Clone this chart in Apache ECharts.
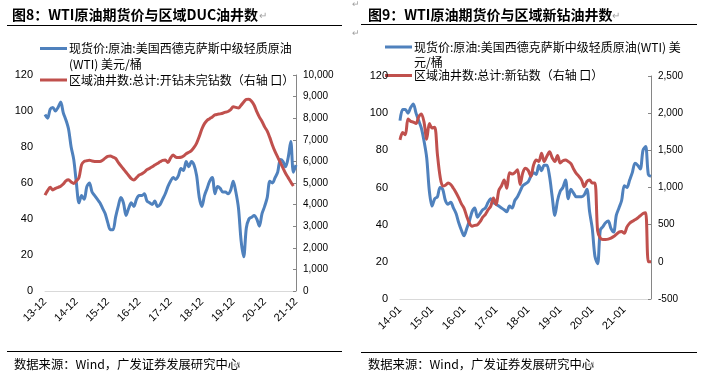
<!DOCTYPE html>
<html><head><meta charset="utf-8">
<script src="https://cdn.jsdelivr.net/npm/echarts@6/dist/echarts.min.js"></script>
<style>html,body{margin:0;padding:0;background:#fff;}#c{width:702px;height:381px;}</style>
</head><body><div id="c"></div>
<script>
function months(y, m, n) {
  const out = [];
  for (let i = 0; i < n; i++) {
    const yy = y + Math.floor((m - 1 + i) / 12);
    const mm = (m - 1 + i) % 12 + 1;
    out.push(String(yy % 100).padStart(2, '0') + '-' + String(mm).padStart(2, '0'));
  }
  return out;
}
// Chart 8: Dec-2013 .. Dec-2021 monthly
const leftCategories = months(2013, 12, 97);
// Chart 9: Jan-2014 .. Nov-2021 monthly
const rightCategories = months(2014, 1, 95);

const leftWTI = [98,96,101,102,100,102,105,99,95,90,80,73,60,49,53,51,58,60,55,53,51,49,46,43,38,34,34,41,47,52,49,42,46,49,47,51,53,53,54,50,49,48,50,47,48,51,54,58,61,63,62,64,68,67,72,69,72,70,64,52,47,53,57,61,63,54,58,57,55,55,54,56,61,55,46,28,19,35,40,41,42,40,36,43,47,52,61,60,63,66,73,72,69,74,83,66,70];
const leftDUC = [4440,4650,4800,4680,4750,4800,4850,4950,5100,5150,5050,4980,5100,5250,5850,6000,6030,6050,6020,6000,5990,5990,6050,6150,6230,6250,6200,6140,5950,5800,5650,5500,5350,5200,5140,5250,5370,5420,5500,5620,5680,5750,5830,5900,5980,6050,6060,5950,6150,6300,6200,6180,6190,6250,6350,6420,6500,6650,6850,7150,7500,7750,7900,7980,8060,8150,8180,8200,8230,8280,8310,8400,8530,8500,8470,8600,8750,8870,8880,8780,8600,8300,8050,7850,7600,7400,7100,6750,6450,6200,5950,5700,5450,5250,5050,4860,null];

const rightWTI = [96,102,102,100,103,105,100,96,92,85,76,58,50,54,55,60,59,53,51,52,49,46,41,37,34,38,42,47,49,44,46,48,49,52,54,52,51,50,49,48,47,50,49,53,55,58,61,62,63,66,68,67,72,69,72,72,66,55,45,53,58,60,64,54,59,57,55,55,55,56,59,47,38,23,19,37,39,41,42,38,36,45,49,53,61,60,64,68,73,72,70,80,82,67,66];
const rightNewWells = [1640,1740,1710,1920,1890,1880,1860,1950,1990,1880,1650,1860,1800,1810,1450,1150,1020,1030,1060,1040,990,930,860,780,720,610,520,480,490,500,540,600,640,700,750,860,770,960,1020,1100,990,1200,1180,1200,1240,1040,1200,1260,1230,1150,1300,1370,1350,1460,1350,1420,1480,1400,1350,1430,1330,1360,1370,1350,1320,1250,1190,1150,1100,1010,1080,1100,1060,1060,420,320,300,300,305,318,340,370,400,407,385,470,520,545,565,590,620,650,660,0,0];

const leftTicks = { min: 0, max: 120, interval: 20 };
const leftRightTicks = { min: 0, max: 10000, interval: 1000 };
const rightTicks = { min: 0, max: 120, interval: 20 };
const rightRightTicks = { min: -500, max: 2500, interval: 500 };

const BLUE = '#4F81BD', RED = '#C0504D';
const NUM_FONT = '"Liberation Sans", Arial, "Noto Sans CJK SC", sans-serif';
const CJK_FONT = '"Noto Sans CJK SC", "Liberation Sans", sans-serif';

function fmt(v) { return String(v).replace(/\B(?=(\d{3})+(?!\d))/g, ','); }

function xAxis(gi, cats) {
  return {
    type: 'category', gridIndex: gi, data: cats, boundaryGap: false,
    axisLine: { show: true, lineStyle: { color: '#d9d9d9', width: 1 } },
    axisTick: { show: false },
    axisLabel: { interval: 11, rotate: 45, fontSize: 11, color: '#000', fontFamily: NUM_FONT, margin: 9 },
    splitLine: { show: false }
  };
}
function yLeft(gi, t) {
  return {
    type: 'value', gridIndex: gi, position: 'left', min: t.min, max: t.max, interval: t.interval,
    axisLine: { show: false }, axisTick: { show: false }, splitLine: { show: false },
    axisLabel: { fontSize: 11, color: '#000', fontFamily: NUM_FONT, margin: 12 }
  };
}
function yRight(gi, t) {
  return {
    type: 'value', gridIndex: gi, position: 'right', min: t.min, max: t.max, interval: t.interval,
    axisLine: { show: true, lineStyle: { color: '#868686', width: 1 } },
    axisTick: { show: true, inside: true, length: 3, lineStyle: { color: '#868686' } },
    splitLine: { show: false },
    axisLabel: { fontSize: 10, color: '#000', fontFamily: NUM_FONT, margin: 7, formatter: fmt }
  };
}
function lineSeries(data, color, xi, yi, z) {
  return {
    type: 'line', data: data, xAxisIndex: xi, yAxisIndex: yi, showSymbol: false, symbol: 'none',
    smooth: 0.3, lineStyle: { color: color, width: 3 }, itemStyle: { color: color }, z: z, animation: false
  };
}
function txt(x, y, s, opts) {
  return Object.assign({ type: 'text', x: x, y: y, style: Object.assign({ text: s, fill: '#000', font: '12px ' + CJK_FONT, textVerticalAlign: 'middle', verticalAlign: 'middle' }, opts || {}) });
}
function hline(x1, x2, y, color, w) {
  return { type: 'line', shape: { x1: x1, y1: y, x2: x2, y2: y }, style: { stroke: color, lineWidth: w } };
}

const graphics = [
  // chart 8 header
  txt(12, 15, '图8：WTI原油期货价与区域DUC油井数', { font: 'bold 14px ' + CJK_FONT }),
  txt(259, 15, '↵', { fill: '#a0a0a0', font: '10px ' + CJK_FONT }),
  hline(7, 342, 25.5, '#000', 1),
  hline(40, 67, 48.5, BLUE, 3),
  txt(69, 48.5, '现货价:原油:美国西德克萨斯中级轻质原油'),
  txt(69, 64, '(WTI) 美元/桶'),
  hline(40, 67, 80, RED, 3),
  txt(69, 80, '区域油井数:总计:开钻未完钻数（右轴 口）'),
  hline(7, 342, 351.5, '#000', 1),
  txt(14, 364, '数据来源：Wind，广发证券发展研究中心', { font: '12.3px ' + CJK_FONT }),
  txt(233, 364, '↵', { fill: '#a0a0a0', font: '10px ' + CJK_FONT }),
  // chart 9 header
  txt(352, 4, '↵', { fill: '#a0a0a0', font: '9px ' + CJK_FONT }),
  txt(368, 15, '图9：WTI原油期货价与区域新钻油井数', { font: 'bold 14px ' + CJK_FONT }),
  txt(612, 15, '↵', { fill: '#a0a0a0', font: '10px ' + CJK_FONT }),
  hline(361, 697, 24.5, '#000', 1),
  txt(352, 33, '↵', { fill: '#a0a0a0', font: '9px ' + CJK_FONT }),
  hline(385, 412, 47, BLUE, 3),
  txt(414, 47, '现货价:原油:美国西德克萨斯中级轻质原油(WTI) 美'),
  txt(414, 62, '元/桶'),
  hline(385, 412, 75.5, RED, 3),
  txt(414, 75.5, '区域油井数:总计:新钻数（右轴 口）'),
  hline(361, 697, 352.5, '#000', 1),
  txt(368, 364, '数据来源：Wind，广发证券发展研究中心', { font: '12.3px ' + CJK_FONT }),
  txt(587, 364, '↵', { fill: '#a0a0a0', font: '10px ' + CJK_FONT })
];

const chart = echarts.init(document.getElementById('c'), null, { renderer: 'canvas' });
chart.setOption({
  backgroundColor: '#fff',
  animation: false,
  textStyle: { fontFamily: NUM_FONT },
  grid: [
    { left: 45, top: 75, width: 251, height: 216, containLabel: false },
    { left: 400, top: 76, width: 251, height: 223, containLabel: false }
  ],
  xAxis: [xAxis(0, leftCategories), xAxis(1, rightCategories)],
  yAxis: [yLeft(0, leftTicks), yRight(0, leftRightTicks), yLeft(1, rightTicks), yRight(1, rightRightTicks)],
  series: [
    lineSeries(leftWTI, BLUE, 0, 0, 2),
    lineSeries(leftDUC, RED, 0, 1, 3),
    lineSeries(rightWTI, BLUE, 1, 2, 2),
    lineSeries(rightNewWells, RED, 1, 3, 3)
  ],
  graphic: graphics
});
</script></body></html>
